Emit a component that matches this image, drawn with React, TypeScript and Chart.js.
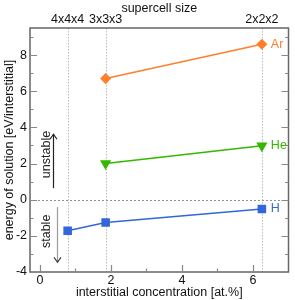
import React, { useEffect, useRef } from "react";
import { Chart, registerables } from "chart.js";
Chart.register(...registerables);

const supercellX = [0.78, 1.85, 6.25];
const supercellLabels = ["4x4x4", "3x3x3", "2x2x2"];
const hX = [0.78, 1.85, 6.25];
const hY = [-1.72, -1.26, -0.51];
const heX = [1.85, 6.25];
const heY = [2.0, 2.98];
const arX = [1.85, 6.25];
const arY = [6.7, 8.6];
const xMajor = [0, 2, 4, 6];
const xMinor = [1, 3, 5];
const yMajor = [-4, -2, 0, 2, 4, 6, 8];
const yMinor = [-3, -1, 1, 3, 5, 7, 9];

const FONT = "'Liberation Sans', Arial, sans-serif";
const AR = "#ff7f2a";
const HE = "#33b800";
const H = "#3366dd";

const pts = (xs: number[], ys: number[]) => xs.map((x, i) => ({ x, y: ys[i] }));

const decor = {
  id: "decor",
  beforeDatasetsDraw(chart: any) {
    const { ctx, chartArea: a, scales } = chart;
    const xs = scales.x, ys = scales.y;
    ctx.save();
    ctx.strokeStyle = "#bbbbbb";
    ctx.lineWidth = 1;
    ctx.setLineDash([1.5, 1.5]);
    supercellX.forEach((v) => {
      const px = Math.round(xs.getPixelForValue(v)) + 0.5;
      ctx.beginPath();
      ctx.moveTo(px, a.top);
      ctx.lineTo(px, a.bottom);
      ctx.stroke();
    });
    ctx.strokeStyle = "#909090";
    ctx.setLineDash([2, 2]);
    const y0 = Math.round(ys.getPixelForValue(0)) + 0.5;
    ctx.beginPath();
    ctx.moveTo(a.left, y0);
    ctx.lineTo(a.right, y0);
    ctx.stroke();
    ctx.setLineDash([]);

    const arrow = (xv: number, y1: number, y2: number, color: string, head: string) => {
      const px = Math.round(xs.getPixelForValue(xv)) + 0.5;
      const p1 = ys.getPixelForValue(y1);
      const p2 = ys.getPixelForValue(y2);
      ctx.strokeStyle = color;
      ctx.lineWidth = 1.2;
      ctx.beginPath();
      ctx.moveTo(px, p1);
      ctx.lineTo(px, p2);
      ctx.stroke();
      const d = p2 < p1 ? 1 : -1;
      ctx.strokeStyle = head;
      ctx.beginPath();
      ctx.moveTo(px - 3.5, p2 + d * 5);
      ctx.lineTo(px, p2);
      ctx.lineTo(px + 3.5, p2 + d * 5);
      ctx.stroke();
    };
    arrow(0.37, 0.64, 3.62, "#222", "#222");
    arrow(0.49, -0.41, -3.46, "#999", "#333");

    const vtext = (t: string, xv: number, yv: number) => {
      ctx.save();
      ctx.translate(xs.getPixelForValue(xv), ys.getPixelForValue(yv));
      ctx.rotate(-Math.PI / 2);
      ctx.fillStyle = "#222";
      ctx.font = `12.5px ${FONT}`;
      ctx.textAlign = "center";
      ctx.textBaseline = "middle";
      ctx.fillText(t, 0, 0);
      ctx.restore();
    };
    vtext("unstable", 0.2, 2.5);
    vtext("stable", 0.2, -1.75);
    ctx.restore();
  },
  afterDatasetsDraw(chart: any) {
    const { ctx, chartArea: a, scales } = chart;
    const xs = scales.x, ys = scales.y;
    ctx.save();
    ctx.strokeStyle = "#666";
    ctx.lineWidth = 1.5;
    ctx.strokeRect(a.left, a.top, a.right - a.left, a.bottom - a.top);
    ctx.strokeStyle = "#888";
    ctx.lineWidth = 1.2;
    const xt = (v: number, len: number) => {
      const px = Math.round(xs.getPixelForValue(v)) + 0.5;
      ctx.beginPath();
      ctx.moveTo(px, a.bottom);
      ctx.lineTo(px, a.bottom - len);
      ctx.stroke();
    };
    xMajor.forEach((v) => xt(v, 7));
    xMinor.forEach((v) => xt(v, 3.5));
    const yt = (v: number, len: number) => {
      const py = Math.round(ys.getPixelForValue(v)) + 0.5;
      ctx.beginPath();
      ctx.moveTo(a.left, py);
      ctx.lineTo(a.left + len, py);
      ctx.moveTo(a.right, py);
      ctx.lineTo(a.right - len, py);
      ctx.stroke();
    };
    yMajor.forEach((v) => yt(v, 7));
    yMinor.forEach((v) => yt(v, 3.5));

    ctx.fillStyle = "#111";
    ctx.font = `12.5px ${FONT}`;
    ctx.textAlign = "center";
    ctx.textBaseline = "top";
    xMajor.forEach((v) => ctx.fillText(String(v), xs.getPixelForValue(v), a.bottom + 2));
    ctx.textAlign = "right";
    ctx.textBaseline = "middle";
    yMajor.forEach((v) => ctx.fillText(String(v), a.left - 3, ys.getPixelForValue(v)));
    ctx.textAlign = "center";
    ctx.textBaseline = "bottom";
    supercellX.forEach((v, i) => ctx.fillText(supercellLabels[i], xs.getPixelForValue(v), a.top - 2));
    ctx.textBaseline = "top";
    ctx.fillText("supercell size", (a.left + a.right) / 2, 2);
    ctx.textBaseline = "bottom";
    ctx.fillText("interstitial concentration [at.%]", (a.left + a.right) / 2, 299);
    ctx.save();
    ctx.translate(10, (a.top + a.bottom) / 2);
    ctx.rotate(-Math.PI / 2);
    ctx.textBaseline = "middle";
    ctx.fillText("energy of solution [eV/interstitial]", 0, 0);
    ctx.restore();

    ctx.textAlign = "left";
    ctx.textBaseline = "middle";
    const lab = (t: string, xv: number, yv: number, c: string) => {
      ctx.fillStyle = c;
      ctx.fillText(t, xs.getPixelForValue(xv) + 9, ys.getPixelForValue(yv));
    };
    lab("Ar", arX[arX.length - 1], arY[arY.length - 1], AR);
    lab("He", heX[heX.length - 1], heY[heY.length - 1], HE);
    lab("H", hX[hX.length - 1], hY[hY.length - 1], H);
    ctx.restore();
  },
};

export default function App() {
  const ref = useRef<HTMLCanvasElement>(null);
  useEffect(() => {
    if (!ref.current) return;
    const chart = new Chart(ref.current, {
      type: "scatter",
      data: {
        datasets: [
          { label: "Ar", data: pts(arX, arY), showLine: true, borderColor: AR, backgroundColor: AR, borderWidth: 1.5, pointStyle: "rectRot", pointRadius: 4.5 },
          { label: "He", data: pts(heX, heY), showLine: true, borderColor: HE, backgroundColor: HE, borderWidth: 1.5, pointStyle: "triangle", rotation: 180, pointRadius: 5 },
          { label: "H", data: pts(hX, hY), showLine: true, borderColor: H, backgroundColor: H, borderWidth: 1.5, pointStyle: "rect", pointRadius: 5 },
        ],
      },
      options: {
        animation: false,
        responsive: false,
        layout: { padding: { left: 30, right: 3, top: 28, bottom: 28 } },
        plugins: { legend: { display: false }, tooltip: { enabled: false } },
        scales: {
          x: { type: "linear", min: -0.28, max: 7, display: false },
          y: { type: "linear", min: -4, max: 9.5, display: false },
        },
      },
      plugins: [decor],
    });
    return () => chart.destroy();
  }, []);
  return (
    <div style={{ position: "fixed", left: 0, top: 0, width: 295, height: 300, background: "#fff" }}>
      <canvas ref={ref} width={295} height={300} style={{ width: 295, height: 300 }} />
    </div>
  );
}
